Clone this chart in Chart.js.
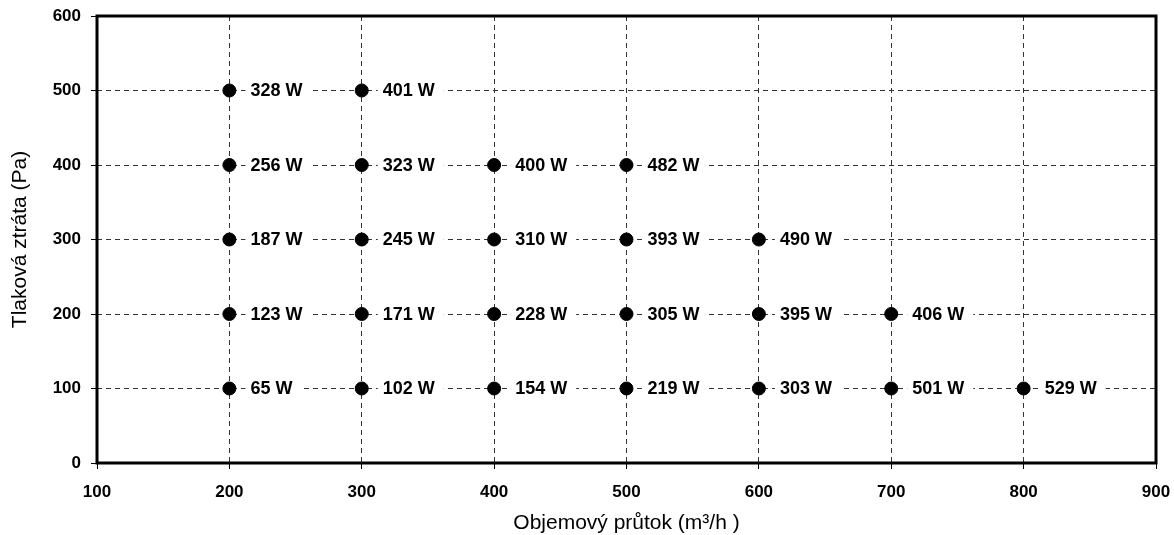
<!DOCTYPE html>
<html>
<head>
<meta charset="utf-8">
<script src="https://cdn.jsdelivr.net/npm/chart.js@4/dist/chart.umd.min.js"></script>
<style>
  html, body { margin: 0; padding: 0; background: #fff; }
  #wrap { width: 1174px; height: 535px; }
</style>
</head>
<body>
<div id="wrap"><canvas id="graph"></canvas></div>
<script>
// flow (m3/h), pressure loss (Pa), power (W)
const flow     = [200, 200, 200, 200, 200, 300, 300, 300, 300, 300, 400, 400, 400, 400, 500, 500, 500, 500, 600, 600, 600, 700, 700, 800];
const pressure = [100, 200, 300, 400, 500, 100, 200, 300, 400, 500, 100, 200, 300, 400, 100, 200, 300, 400, 100, 200, 300, 100, 200, 100];
const power    = [65, 123, 187, 256, 328, 102, 171, 245, 323, 401, 154, 228, 310, 400, 219, 305, 393, 482, 303, 395, 490, 501, 406, 529];

const xTitle = 'Objemový průtok (m³/h )';
const yTitle = 'Tlaková ztráta (Pa)';

const points = flow.map((f, i) => ({ x: f, y: pressure[i] }));

const frame = {
  id: 'frame',
  afterDraw(chart) {
    const { ctx, chartArea: a } = chart;
    ctx.save();
    ctx.strokeStyle = '#000';
    ctx.lineWidth = 3;
    ctx.strokeRect(a.left, a.top, a.right - a.left, a.bottom - a.top);
    ctx.restore();
  }
};

const wattLabels = {
  id: 'wattLabels',
  afterDatasetsDraw(chart) {
    const { ctx } = chart;
    const meta = chart.getDatasetMeta(0);
    ctx.save();
    ctx.font = 'bold 18px "Liberation Sans", Arial, sans-serif';
    ctx.textBaseline = 'middle';
    meta.data.forEach((el, i) => {
      const txt = power[i] + ' W';
      const w = ctx.measureText(txt).width;
      ctx.fillStyle = '#fff';
      ctx.fillRect(el.x + 16, el.y - 9, w + 14, 18);
      ctx.fillStyle = '#000';
      ctx.fillText(txt, el.x + 21, el.y + 1);
    });
    ctx.restore();
  }
};

const tickFont = { family: '"Liberation Sans", Arial, sans-serif', size: 17, weight: 'bold' };
const titleFont = { family: '"Liberation Sans", Arial, sans-serif', size: 21 };

new Chart(document.getElementById('graph'), {
  type: 'scatter',
  data: {
    datasets: [{
      data: points,
      backgroundColor: '#000',
      borderColor: '#000',
      pointRadius: 6.5,
      pointHoverRadius: 6.5
    }]
  },
  options: {
    responsive: true,
    maintainAspectRatio: false,
    animation: false,
    events: [],
    layout: { padding: { top: 16, right: 18, left: 0, bottom: 0 } },
    plugins: { legend: { display: false }, tooltip: { enabled: false } },
    scales: {
      x: {
        type: 'linear',
        min: 100,
        max: 900,
        afterFit: s => { s.height = 72; s.paddingLeft = 0; s.paddingRight = 0; },
        ticks: { stepSize: 100, color: '#000', font: tickFont, padding: 13, maxRotation: 0 },
        grid: { color: '#333', lineWidth: 1, tickLength: 6, tickColor: '#000', tickWidth: 1 },
        border: { display: false, dash: [5, 4] },
        title: { display: true, text: xTitle, color: '#000', font: titleFont, padding: { top: 0, bottom: -1 } }
      },
      y: {
        type: 'linear',
        min: 0,
        max: 600,
        afterFit: s => { s.width = 97; s.paddingTop = 0; s.paddingBottom = 0; },
        ticks: { stepSize: 100, color: '#000', font: tickFont, padding: 10 },
        grid: { color: '#333', lineWidth: 1, tickLength: 6, tickColor: '#000', tickWidth: 1 },
        border: { display: false, dash: [5, 4] },
        title: { display: true, text: yTitle, color: '#000', font: titleFont, padding: { top: 8, bottom: 0 } }
      }
    }
  },
  plugins: [frame, wattLabels]
});
</script>
</body>
</html>
